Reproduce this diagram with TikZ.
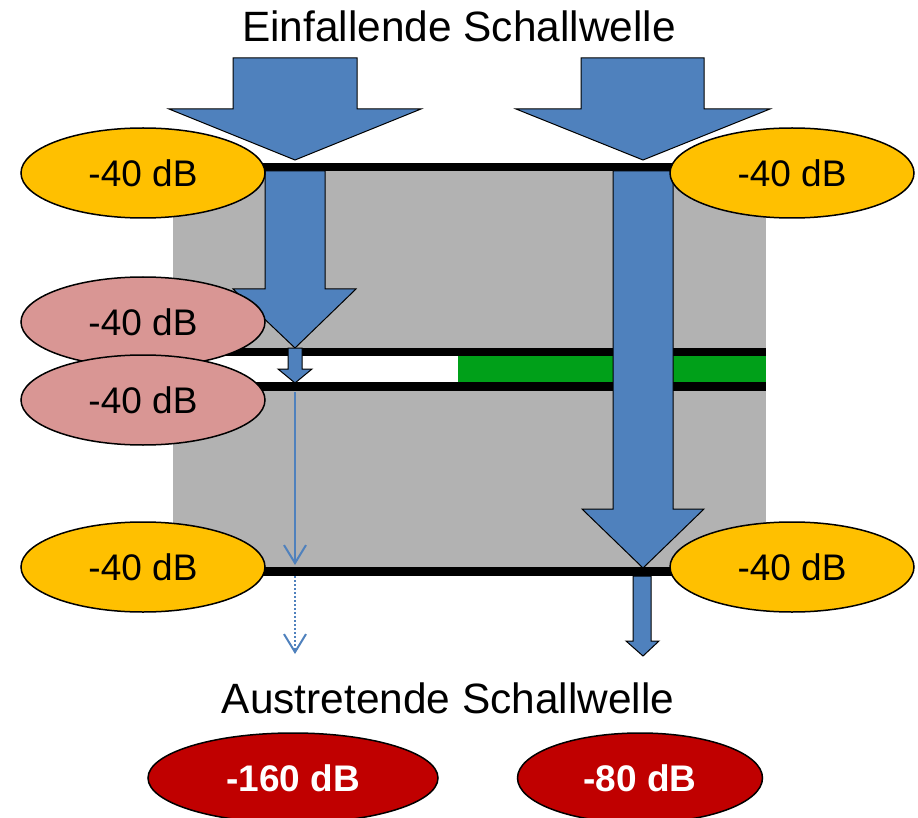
\documentclass[tikz,border=0pt]{standalone}
\usepackage{fontspec}
\setmainfont{Liberation Sans}
\usetikzlibrary{positioning, arrows.meta, shapes.geometric}

\definecolor{wave}{RGB}{79,129,189}
\definecolor{gold}{RGB}{255,192,0}
\definecolor{rose}{RGB}{217,150,148}
\definecolor{darkred}{RGB}{192,0,0}
\definecolor{wall}{RGB}{178,178,178}
\definecolor{layergreen}{RGB}{0,160,25}

\begin{document}
\begin{tikzpicture}[
  x=1pt, y=-1pt,
  level/.style={draw, line width=1.5pt, ellipse, minimum width=244pt, minimum height=90pt,
    inner sep=0pt, font=\fontsize{37}{44}\selectfont},
  result/.style={level, fill=darkred, text=white, font=\fontsize{37}{44}\selectfont\bfseries},
  heading/.style={anchor=base, font=\fontsize{42.4}{50}\selectfont},
  blockarrow/.style={draw, fill=wave, line width=1pt, line join=miter},
  leak/.style={wave, line width=2pt, -{Straight Barb[length=18pt, width=22pt]}}
]
  \useasboundingbox (0,0) rectangle (918,818);

  % wall
  \fill[wall] (173,171) rectangle (766,567);
  % inner layer
  \fill (173,348) rectangle (766,391);
  \fill[white] (173,356) rectangle (458,382);
  \fill[layergreen] (458,356) rectangle (766,382);
  % surfaces
  \fill (173,163) rectangle (766,171);
  \fill (173,567) rectangle (766,576);

  \node[heading] (incoming) at (459,42) {Einfallende Schallwelle};
  \node[heading] (outgoing) at (448,713) {Austretende Schallwelle};

  % incoming waves
  \draw[blockarrow] (233,58) -- (357,58) -- (357,109) -- (421,109) -- (295,160)
    -- (169,109) -- (233,109) -- cycle;
  \draw[blockarrow] (581,58) -- (704,58) -- (704,109) -- (770,109) -- (643,160)
    -- (516,109) -- (581,109) -- cycle;

  % left path
  \draw[blockarrow] (265,171) -- (325,171) -- (325,289) -- (356,289) -- (295,348)
    -- (233,289) -- (265,289) -- cycle;
  \draw[blockarrow] (288,348) -- (302,348) -- (302,369) -- (312,369) -- (295,383)
    -- (278,369) -- (288,369) -- cycle;
  \coordinate (gap) at (295,392);
  \coordinate (back) at (295,565);
  \coordinate (exitL) at (295,576);
  \coordinate (endL) at (295,654);
  \draw[leak] (gap) -- (back);
  \draw[leak, dash pattern=on 2pt off 2pt] (exitL) -- (endL);

  % right path
  \draw[blockarrow] (613,171) -- (673,171) -- (673,509) -- (704,509) -- (643,568)
    -- (582,509) -- (613,509) -- cycle;
  \draw[blockarrow] (633,576) -- (651,576) -- (651,641) -- (659,641) -- (643,656)
    -- (626,641) -- (633,641) -- cycle;

  % levels
  \node[level, fill=gold] (topL) at (143,173) {-40 dB};
  \node[level, fill=gold] (topR) at (792,173) {-40 dB};
  \node[level, fill=rose] (midA) at (143,322) {-40 dB};
  \node[level, fill=rose] (midB) at (143,400) {-40 dB};
  \node[level, fill=gold] (botL) at (143,567) {-40 dB};
  \node[level, fill=gold] (botR) at (792,567) {-40 dB};

  % totals
  \node[result, minimum width=290pt] (totalL) at (293,778) {-160 dB};
  \node[result, minimum width=245pt] (totalR) at (640,778) {-80 dB};
\end{tikzpicture}
\end{document}
